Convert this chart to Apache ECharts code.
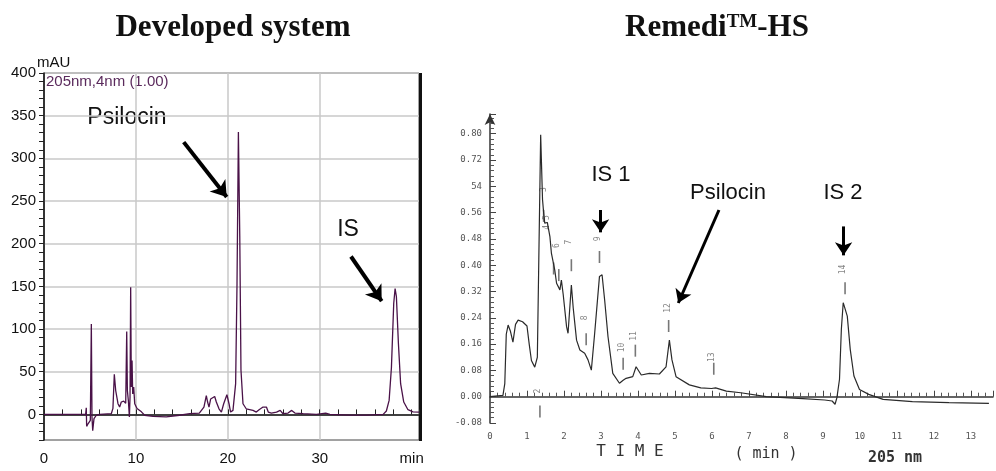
<!DOCTYPE html>
<html>
<head>
<meta charset="utf-8">
<title>Psilocin chromatograms</title>
<script src="https://cdn.jsdelivr.net/npm/echarts@6/dist/echarts.min.js"></script>
<style>
  html, body { margin: 0; padding: 0; background: #fff; }
  #chart { width: 996px; height: 471px; }
</style>
</head>
<body>
<div id="chart"></div>
<script>
// developed system trace (min, mAU)
const devTime = [0, 4.53, 4.6, 4.64, 4.79, 5.04, 5.15, 5.22, 5.3, 5.44, 5.69, 6.06, 7.33, 7.5, 7.65, 7.8, 8.05, 8.23, 8.41, 8.67, 8.89, 9.0, 9.07, 9.18, 9.29, 9.36, 9.43, 9.5, 9.58, 9.65, 9.76, 9.87, 10.12, 10.6, 10.95, 11.86, 13.3, 14.76, 15.85, 16.9, 17.4, 17.66, 17.8, 17.95, 18.13, 18.3, 18.57, 18.75, 19.04, 19.3, 19.55, 19.9, 20.13, 20.3, 20.56, 20.85, 21.0, 21.15, 21.3, 21.43, 21.65, 22.0, 22.74, 23.1, 23.4, 23.83, 24.2, 24.4, 24.74, 25.3, 25.7, 26.0, 26.55, 26.95, 27.3, 28.2, 29.63, 30.65, 31.1, 33.26, 35.07, 36.9, 37.25, 37.55, 37.8, 38.05, 38.2, 38.34, 38.56, 38.8, 39.14, 39.6, 40.15, 40.8];
const devSignal = [0, 0, 7.8, -14, -11, -7, 106, -3, -19, -5, -1, 0, 1, 7, 47, 28, 12.5, 8.6, 14.5, 15.6, 13, 97, 28, 16, -3, 20, 149, 32, 63, 24, 32, 12.5, 7, 3, -1, -2.3, -3, -1, 1, 1.6, 8.6, 22, 14.5, 8.6, 18, 16.4, 21, 14.5, 6.6, 2.7, 12.5, 23, 12.5, 2.7, 4.7, 36, 153, 331, 208, 52, 12.5, 6.6, 4.7, 2.7, 5.5, 8.6, 8.6, 2.7, 1.6, 2.7, 4.7, 0.8, 1.6, 4.7, 1.6, 0.8, 0, 1.6, 0, -0.8, -0.8, 0, 4, 16.4, 55, 130, 147.5, 138, 83, 36, 14.5, 5.5, 3, 2.7];

// Remedi-HS trace (min, AU)
const remTime = [0, 0.35, 0.4, 0.44, 0.49, 0.55, 0.62, 0.69, 0.76, 0.88, 1.0, 1.06, 1.12, 1.21, 1.28, 1.32, 1.37, 1.42, 1.45, 1.48, 1.55, 1.62, 1.66, 1.75, 1.8, 1.89, 1.93, 1.98, 2.07, 2.11, 2.2, 2.25, 2.34, 2.43, 2.56, 2.65, 2.74, 2.83, 2.96, 3.03, 3.1, 3.19, 3.32, 3.5, 3.6, 3.68, 3.86, 3.95, 4.09, 4.31, 4.58, 4.76, 4.85, 4.92, 5.03, 5.39, 5.7, 5.99, 6.1, 6.39, 6.78, 7.47, 7.97, 8.46, 9.05, 9.25, 9.33, 9.38, 9.45, 9.5, 9.55, 9.6, 9.66, 9.74, 9.84, 9.99, 10.24, 10.63, 11.42, 12.41, 13.49];
const remSignal = [0, 0.004, 0.04, 0.19, 0.218, 0.2, 0.166, 0.22, 0.233, 0.228, 0.215, 0.16, 0.11, 0.09, 0.12, 0.42, 0.797, 0.6, 0.56, 0.528, 0.53, 0.487, 0.437, 0.386, 0.345, 0.325, 0.355, 0.31, 0.213, 0.193, 0.34, 0.27, 0.172, 0.142, 0.132, 0.112, 0.081, 0.193, 0.366, 0.371, 0.294, 0.183, 0.071, 0.041, 0.05, 0.056, 0.061, 0.091, 0.066, 0.071, 0.069, 0.091, 0.172, 0.112, 0.061, 0.036, 0.027, 0.025, 0.027, 0.017, 0.012, 0, -0.003, -0.006, -0.01, -0.013, -0.023, -0.003, 0.053, 0.205, 0.286, 0.286, 0.245, 0.144, 0.063, 0.022, 0.007, -0.008, -0.015, -0.018, -0.02];

// integrator peak numbers and tick dashes on the scanned trace
const remMarkTime = [1.3, 1.45, 1.55, 1.8, 2.14, 2.56, 2.91, 3.57, 3.9, 4.81, 5.99, 9.55];
const remMarkLevel = [0.017, 0.63, 0.53, 0.46, 0.47, 0.24, 0.48, 0.15, 0.185, 0.27, 0.12, 0.387];
const remMarkText = ['2', '3', '4 5', '6', '7', '8', '9', '10', '11', '12', '13', '14'];
const remDashTime = [1.35, 1.45, 1.72, 1.86, 2.2, 2.6, 2.96, 3.6, 3.93, 4.83, 6.05, 9.6];
const remDashLevel = [-0.045, 0.55, 0.39, 0.37, 0.4, 0.175, 0.425, 0.1, 0.14, 0.215, 0.085, 0.33];

const remTickLabels = ['-0.08', '0.00', '0.08', '0.16', '0.24', '0.32', '0.40', '0.48', '0.56', '54', '0.72', '0.80'];

// annotation arrows, [x0, y0, x1, y1] in data units
const devArrows = [[15.2, 319, 19.88, 254.7], [33.4, 185, 36.74, 132.6]];
const remArrows = [[2.99, 0.568, 2.99, 0.5], [6.19, 0.568, 5.09, 0.285], [9.56, 0.518, 9.56, 0.43]];

const purple = '#4a1248';
const sans = 'Liberation Sans';
const mono = 'DejaVu Sans Mono';

function zip(a, b) { return a.map((v, i) => [v, b[i]]); }
function arrowData(list) {
  return list.map(a => [{ coord: [a[0], a[1]] }, { coord: [a[2], a[3]] }]);
}
function txt(text, x, y, size, extra) {
  return {
    type: 'text', x: x, y: y, silent: true,
    style: Object.assign({ text: text, font: size + 'px "' + sans + '"', fill: '#111', align: 'center', verticalAlign: 'middle' }, extra || {})
  };
}

const chart = echarts.init(document.getElementById('chart'));
chart.setOption({
  animation: false,
  backgroundColor: '#fff',
  grid: [
    { left: 44, top: 73, right: 577, bottom: 31, show: true, borderColor: '#444', borderWidth: 1 },
    { left: 490, top: 114, right: 2, bottom: 48 }
  ],
  xAxis: [
    {
      gridIndex: 0, type: 'value', min: 0, max: 40.8, interval: 10,
      axisLine: { lineStyle: { color: '#111', width: 1.5 } },
      axisTick: { inside: true, length: 5, lineStyle: { color: '#222' } },
      minorTick: { show: true, splitNumber: 5, length: 5, lineStyle: { color: '#222' } },
      axisLabel: {
        margin: 11, fontSize: 15, fontFamily: sans, color: '#111',
        formatter: v => (v === 40 ? 'min' : (v % 10 === 0 ? String(v) : ''))
      },
      splitLine: { show: true, showMinLine: false, showMaxLine: false,
        lineStyle: { color: ['#c8c8c8', '#c8c8c8', '#c8c8c8', 'rgba(0,0,0,0)'], width: 1.5 } }
    },
    {
      gridIndex: 1, type: 'value', min: 0, max: 13.6, interval: 1,
      axisLine: { lineStyle: { color: '#333', width: 1.5 } },
      axisTick: { inside: true, length: 6, lineStyle: { color: '#444' } },
      minorTick: { show: true, splitNumber: 5, length: 4, lineStyle: { color: '#555' } },
      axisLabel: {
        margin: 9, fontSize: 9, fontFamily: mono, color: '#555',
        formatter: v => (Math.abs(v - Math.round(v)) < 1e-6 ? String(Math.round(v)) : '')
      },
      splitLine: { show: false }
    }
  ],
  yAxis: [
    {
      gridIndex: 0, type: 'value', min: -30, max: 400, interval: 10,
      axisLine: { lineStyle: { color: '#111', width: 1.5 } },
      axisTick: { length: 5, lineStyle: { color: '#222' } },
      axisLabel: {
        margin: 8, fontSize: 15, fontFamily: sans, color: '#111',
        formatter: v => (Math.round(v) % 50 === 0 ? String(Math.round(v)) : '')
      },
      splitLine: { show: true,
        lineStyle: { color: ['rgba(0,0,0,0)', 'rgba(0,0,0,0)', 'rgba(0,0,0,0)', '#c8c8c8', 'rgba(0,0,0,0)'], width: 1.5 } }
    },
    {
      gridIndex: 1, type: 'value', min: -0.08, max: 0.86, interval: 0.08,
      axisLine: { symbol: ['none', 'arrow'], symbolSize: [8, 11], lineStyle: { color: '#333', width: 1.5 } },
      axisTick: { inside: true, length: 6, lineStyle: { color: '#444' } },
      minorTick: { show: true, splitNumber: 5, length: 4, lineStyle: { color: '#555' } },
      axisLabel: {
        margin: 8, fontSize: 9, fontFamily: mono, color: '#555',
        formatter: v => remTickLabels[Math.round((v + 0.08) / 0.08)] || ''
      },
      splitLine: { show: false }
    }
  ],
  series: [
    {
      name: 'Developed system', type: 'line', xAxisIndex: 0, yAxisIndex: 0,
      data: zip(devTime, devSignal), showSymbol: false, symbol: 'none',
      lineStyle: { color: purple, width: 1.3 },
      markLine: {
        silent: true, symbol: ['none', 'arrow'], symbolSize: 15,
        label: { show: false }, lineStyle: { color: '#000', width: 4, type: 'solid' },
        data: arrowData(devArrows)
      }
    },
    {
      name: 'Remedi-HS', type: 'line', xAxisIndex: 1, yAxisIndex: 1,
      data: zip(remTime, remSignal), showSymbol: false, symbol: 'none',
      lineStyle: { color: '#2a2a2a', width: 1.2 },
      markLine: {
        silent: true, symbol: ['none', 'arrow'], symbolSize: 13,
        label: { show: false }, lineStyle: { color: '#000', width: 3, type: 'solid' },
        data: arrowData(remArrows)
      }
    },
    {
      name: 'peak dashes', type: 'scatter', xAxisIndex: 1, yAxisIndex: 1,
      data: zip(remDashTime, remDashLevel), symbol: 'rect', symbolSize: [1.6, 12],
      itemStyle: { color: '#555' }, silent: true
    },
    {
      name: 'peak numbers', type: 'scatter', xAxisIndex: 1, yAxisIndex: 1,
      data: zip(remMarkTime, remMarkLevel), symbolSize: 0, silent: true,
      label: {
        show: true, position: 'inside', rotate: 90, fontSize: 8, fontFamily: mono, color: '#666',
        formatter: p => remMarkText[p.dataIndex]
      }
    }
  ],
  graphic: [
    txt('Developed system', 233, 28, 31, { font: 'bold 31px "Liberation Serif"' }),
    {
      type: 'text', x: 717, y: 28, silent: true,
      style: {
        text: '{a|Remedi}{b|TM}{a|-HS}', align: 'center', verticalAlign: 'middle', fill: '#111',
        rich: {
          a: { fontSize: 31, fontWeight: 'bold', fontFamily: 'Liberation Serif' },
          b: { fontSize: 19, fontWeight: 'bold', fontFamily: 'Liberation Serif', verticalAlign: 'top' }
        }
      }
    },
    txt('mAU', 37, 63, 15, { align: 'left' }),
    txt('205nm,4nm (1.00)', 46, 82, 15, { align: 'left', fill: '#5a2a5c' }),
    txt('Psilocin', 127, 118, 23),
    txt('IS', 348, 230, 23),
    txt('IS 1', 611, 175, 22),
    txt('Psilocin', 728, 193, 22),
    txt('IS 2', 843, 193, 22),
    txt('T I M E', 630, 452, 16, { font: '16px "' + mono + '"', fill: '#333' }),
    txt('( min )', 766, 454, 15, { font: '15px "' + mono + '"', fill: '#333' }),
    txt('205 nm', 895, 458, 15, { font: 'bold 15px "' + mono + '"', fill: '#333' }),
    { type: 'rect', silent: true, shape: { x: 419, y: 73, width: 3, height: 368 }, style: { fill: '#111' } }
  ]
});
</script>
</body>
</html>
